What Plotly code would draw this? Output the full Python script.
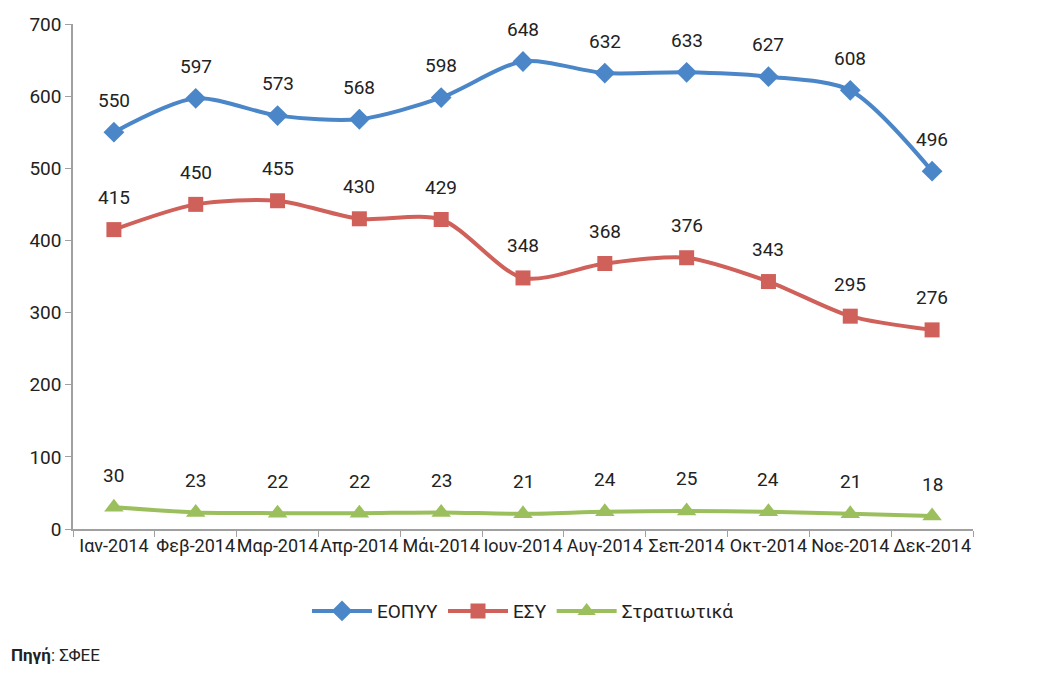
import plotly.graph_objects as go

months = ["Ιαν-2014", "Φεβ-2014", "Μαρ-2014", "Απρ-2014", "Μάι-2014", "Ιουν-2014",
          "Αυγ-2014", "Σεπ-2014", "Οκτ-2014", "Νοε-2014", "Δεκ-2014"]
eopyy = [550, 597, 573, 568, 598, 648, 632, 633, 627, 608, 496]
esy = [415, 450, 455, 430, 429, 348, 368, 376, 343, 295, 276]
stratiotika = [30, 23, 22, 22, 23, 21, 24, 25, 24, 21, 18]

FONT = "Roboto, Liberation Sans Narrow, sans-serif"

series = [
    ("ΕΟΠΥΥ", eopyy, "#4a86c8", "diamond", 16),
    ("ΕΣΥ", esy, "#d0605a", "square", 15),
    ("Στρατιωτικά", stratiotika, "#9bbf5c", "triangle-up", 17),
]

fig = go.Figure()
annotations = []
for name, vals, color, symbol, msize in series:
    fig.add_trace(go.Scatter(
        x=months, y=vals, name=name, mode="lines+markers",
        line=dict(color=color, width=4, shape="spline", smoothing=0.8),
        marker=dict(symbol=symbol, size=msize, color=color),
    ))
    for m, v in zip(months, vals):
        annotations.append(dict(
            x=m, y=v, text=str(v), showarrow=False, yshift=32,
            font=dict(family=FONT, size=19, color="#222222"),
        ))

annotations.append(dict(
    x=0, y=0, xref="paper", yref="paper", xanchor="left", yanchor="bottom",
    xshift=-64, yshift=-138, showarrow=False,
    text="<b>Πηγή</b>: ΣΦΕΕ",
    font=dict(family=FONT, size=17, color="#222222"),
))

fig.update_layout(
    width=1048, height=678,
    margin=dict(l=73, r=75, t=24, b=149),
    paper_bgcolor="white", plot_bgcolor="white",
    font=dict(family=FONT, size=18, color="#222222"),
    showlegend=True,
    legend=dict(orientation="h", x=0.5, xanchor="center", y=-0.125, yanchor="top",
                font=dict(family=FONT, size=19, color="#222222"),
                itemwidth=60, tracegroupgap=0),
    annotations=annotations,
)
fig.update_xaxes(
    type="category", tickson="boundaries", ticks="outside", ticklen=6,
    tickcolor="#a0a0a0", showline=True, linecolor="#a0a0a0", linewidth=1.5,
    showgrid=False, range=[-0.5, len(months) - 0.5], tickangle=0,
    tickfont=dict(family=FONT, size=18, color="#222222"),
)
fig.update_yaxes(
    range=[0, 700], dtick=100, ticks="outside", ticklen=6, tickcolor="#a0a0a0",
    showline=True, linecolor="#a0a0a0", linewidth=1.5, showgrid=False,
    zeroline=False, tickfont=dict(family=FONT, size=19, color="#222222"),
)

fig.write_html("out.html")
